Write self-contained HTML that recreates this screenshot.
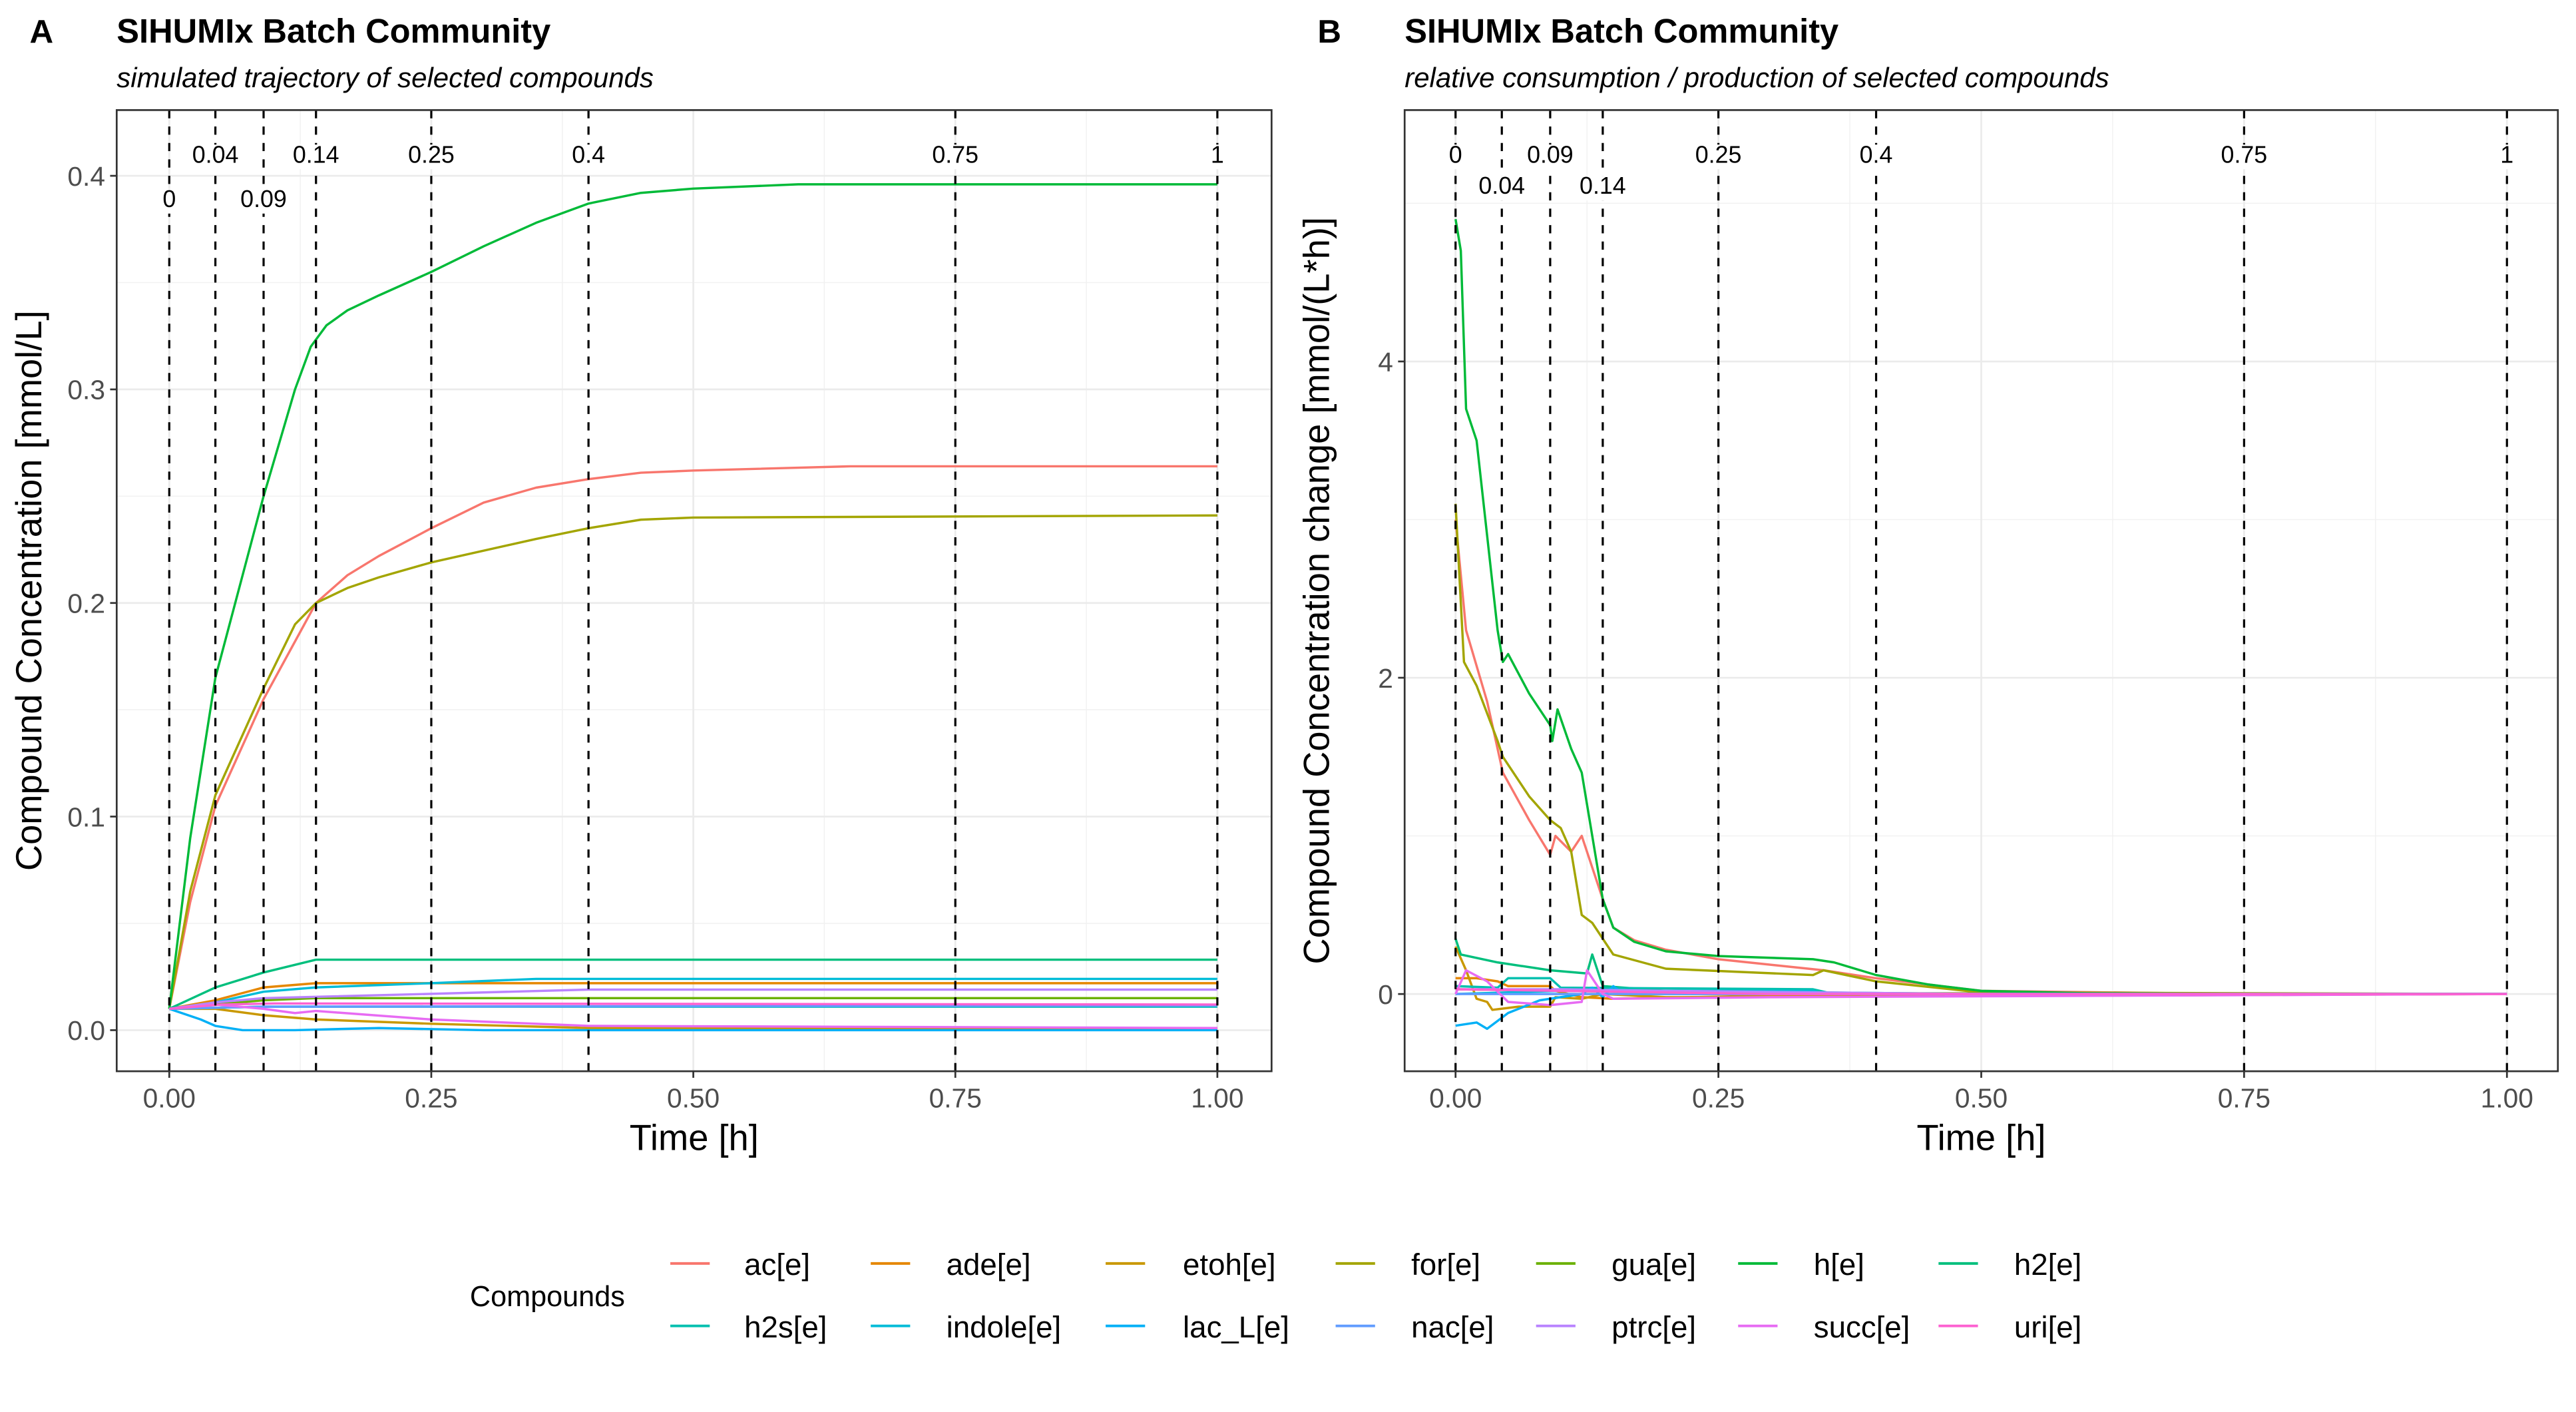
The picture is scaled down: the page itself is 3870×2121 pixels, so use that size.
<!DOCTYPE html>
<html><head><meta charset="utf-8"><style>
html,body{margin:0;padding:0;background:#fff}
svg{display:block}
text{font-family:"Liberation Sans Narrow","Liberation Sans",Arial,sans-serif}
</style></head><body>
<svg id="chart" xmlns="http://www.w3.org/2000/svg" width="3870" height="2121" viewBox="0 0 1568 859.4">
<rect width="1568" height="860" fill="#fff"/>
</svg>
<script>
const compounds=["ac[e]","ade[e]","etoh[e]","for[e]","gua[e]","h[e]","h2[e]","h2s[e]","indole[e]","lac_L[e]","nac[e]","ptrc[e]","succ[e]","uri[e]"];
const colors=["#F8766D","#E58700","#C99800","#A3A500","#6BB100","#00BA38","#00BF7D","#00C0AF","#00BCD8","#00B0F6","#619CFF","#B983FF","#E76BF3","#FD61D1"];
const markers=[0,0.044,0.09,0.14,0.25,0.4,0.75,1];
const markerLabels=["0","0.04","0.09","0.14","0.25","0.4","0.75","1"];
const rowA=[1,0,1,0,0,0,0,0];
const rowB=[0,1,0,1,0,0,0,0];
const xTicks=[0,0.25,0.5,0.75,1];
const xTickLabels=["0.00","0.25","0.50","0.75","1.00"];
const yTicksA=[0,0.1,0.2,0.3,0.4];
const yTickLabelsA=["0.0","0.1","0.2","0.3","0.4"];
const yTicksB=[0,2,4];
const yTickLabelsB=["0","2","4"];
const concA={
"ac[e]":[[0,0.01],[0.02,0.06],[0.044,0.105],[0.09,0.155],[0.14,0.2],[0.17,0.213],[0.2,0.222],[0.25,0.235],[0.3,0.247],[0.35,0.254],[0.4,0.258],[0.45,0.261],[0.5,0.262],[0.65,0.264],[1,0.264]],
"ade[e]":[[0,0.01],[0.044,0.014],[0.09,0.02],[0.14,0.022],[0.25,0.022],[1,0.022]],
"etoh[e]":[[0,0.01],[0.044,0.01],[0.09,0.007],[0.14,0.005],[0.25,0.003],[0.4,0.001],[1,0.001]],
"for[e]":[[0,0.01],[0.02,0.065],[0.044,0.11],[0.09,0.16],[0.12,0.19],[0.14,0.2],[0.17,0.207],[0.2,0.212],[0.25,0.219],[0.35,0.23],[0.4,0.235],[0.45,0.239],[0.5,0.24],[1,0.241]],
"gua[e]":[[0,0.01],[0.044,0.012],[0.09,0.014],[0.14,0.015],[1,0.015]],
"h[e]":[[0,0.01],[0.02,0.09],[0.044,0.165],[0.09,0.25],[0.12,0.3],[0.135,0.32],[0.15,0.33],[0.17,0.337],[0.2,0.344],[0.25,0.355],[0.3,0.367],[0.35,0.378],[0.4,0.387],[0.45,0.392],[0.5,0.394],[0.6,0.396],[1,0.396]],
"h2[e]":[[0,0.01],[0.044,0.02],[0.09,0.027],[0.14,0.033],[1,0.033]],
"h2s[e]":[[0,0.01],[0.09,0.011],[0.4,0.011],[1,0.011]],
"indole[e]":[[0,0.01],[0.044,0.013],[0.09,0.018],[0.14,0.02],[0.25,0.022],[0.35,0.024],[1,0.024]],
"lac_L[e]":[[0,0.01],[0.03,0.005],[0.044,0.002],[0.07,0.0],[0.12,0.0],[0.2,0.001],[0.3,0.0],[1,0.0]],
"nac[e]":[[0,0.01],[0.09,0.011],[1,0.0115]],
"ptrc[e]":[[0,0.01],[0.044,0.013],[0.09,0.015],[0.25,0.017],[0.4,0.019],[1,0.019]],
"succ[e]":[[0,0.01],[0.044,0.012],[0.09,0.01],[0.12,0.008],[0.14,0.009],[0.25,0.005],[0.4,0.002],[1,0.001]],
"uri[e]":[[0,0.01],[0.05,0.012],[0.1,0.0125],[1,0.012]]
};
const rateB={
"ac[e]":[[0,3.0],[0.01,2.3],[0.03,1.85],[0.045,1.4],[0.07,1.1],[0.09,0.88],[0.095,1.0],[0.11,0.9],[0.12,1.0],[0.13,0.8],[0.14,0.6],[0.15,0.42],[0.17,0.34],[0.2,0.28],[0.25,0.22],[0.35,0.15],[0.4,0.1],[0.5,0.02],[0.75,0],[1,0]],
"ade[e]":[[0,0.1],[0.02,0.1],[0.04,0.08],[0.05,0.05],[0.09,0.05],[0.095,0.02],[0.12,-0.02],[0.15,-0.03],[0.3,-0.01],[1,0]],
"etoh[e]":[[0,0.3],[0.01,0.15],[0.02,-0.03],[0.03,-0.05],[0.035,-0.1],[0.06,-0.08],[0.09,-0.08],[0.095,-0.02],[0.12,-0.03],[0.14,0],[0.2,-0.02],[1,0]],
"for[e]":[[0,3.1],[0.008,2.1],[0.02,1.95],[0.04,1.6],[0.045,1.5],[0.07,1.25],[0.09,1.1],[0.1,1.05],[0.11,0.9],[0.12,0.5],[0.13,0.45],[0.14,0.35],[0.15,0.25],[0.2,0.16],[0.34,0.12],[0.35,0.15],[0.4,0.08],[0.5,0.01],[1,0]],
"gua[e]":[[0,0.03],[0.1,0.02],[0.2,0.01],[0.4,0.005],[1,0]],
"h[e]":[[0,4.9],[0.005,4.7],[0.01,3.7],[0.02,3.5],[0.03,2.9],[0.04,2.3],[0.045,2.1],[0.05,2.15],[0.07,1.9],[0.09,1.7],[0.092,1.6],[0.097,1.8],[0.11,1.55],[0.12,1.4],[0.13,1.0],[0.14,0.6],[0.15,0.42],[0.17,0.33],[0.2,0.27],[0.25,0.24],[0.34,0.22],[0.36,0.2],[0.4,0.12],[0.45,0.06],[0.5,0.02],[0.6,0.005],[0.75,0],[1,0]],
"h2[e]":[[0,0.35],[0.005,0.25],[0.04,0.2],[0.09,0.15],[0.125,0.13],[0.13,0.25],[0.14,0.05],[0.2,0.02],[0.5,0],[1,0]],
"h2s[e]":[[0,0.05],[0.04,0.04],[0.05,0.1],[0.09,0.1],[0.1,0.04],[0.34,0.03],[0.36,0],[1,0]],
"indole[e]":[[0,0],[0.05,0.01],[0.1,0.02],[0.12,0.02],[0.34,0.02],[0.35,0],[1,0]],
"lac_L[e]":[[0,-0.2],[0.02,-0.18],[0.03,-0.22],[0.05,-0.12],[0.08,-0.04],[0.12,0],[0.13,0.04],[0.14,-0.02],[0.15,0.05],[0.16,0],[1,0]],
"nac[e]":[[0,0],[1,0]],
"ptrc[e]":[[0,0.03],[0.1,0.03],[0.2,0.02],[0.5,0],[1,0]],
"succ[e]":[[0,0.0],[0.01,0.15],[0.03,0.08],[0.05,-0.05],[0.09,-0.07],[0.12,-0.05],[0.125,0.15],[0.14,0.0],[0.15,-0.03],[0.3,-0.02],[1,0]],
"uri[e]":[[0,0.03],[0.1,0.02],[0.3,0.0],[1,0]]
};

const NS="http://www.w3.org/2000/svg";
const svg=document.getElementById('chart');
function mk(tag,attrs,parent,txt){const e=document.createElementNS(NS,tag);for(const k in attrs)e.setAttribute(k,attrs[k]);if(txt!==undefined)e.textContent=txt;(parent||svg).appendChild(e);return e;}

function panel(p){
  const g=mk('g',{});
  
  
  const X=v=>p.x0+(p.x1-p.x0)*v;
  const Y=v=>p.yz+(p.y4-p.yz)*(v/p.yRef);
  const xMinor=[0.125,0.375,0.625,0.875];
  xMinor.forEach(v=>mk('line',{x1:X(v),x2:X(v),y1:p.top,y2:p.bot,stroke:'#f1f1f1','stroke-width':0.6},g));
  p.yMinor.forEach(v=>mk('line',{x1:p.left,x2:p.right,y1:Y(v),y2:Y(v),stroke:'#f1f1f1','stroke-width':0.6},g));
  xTicks.forEach(v=>mk('line',{x1:X(v),x2:X(v),y1:p.top,y2:p.bot,stroke:'#ebebeb','stroke-width':1.1},g));
  p.yTicks.forEach(v=>mk('line',{x1:p.left,x2:p.right,y1:Y(v),y2:Y(v),stroke:'#ebebeb','stroke-width':1.1},g));
  compounds.forEach((c,i)=>{
    const pts=p.data[c].map(d=>X(d[0]).toFixed(2)+','+Y(d[1]).toFixed(2)).join(' ');
    const pl=mk('polyline',{points:pts,fill:'none',stroke:colors[i],'stroke-width':1.4,'stroke-linejoin':'round'},g);
    
    
  });
  markers.forEach((m,i)=>{
    const l=mk('line',{x1:X(m),x2:X(m),y1:p.top,y2:p.bot,stroke:'#000','stroke-width':1.3,'stroke-dasharray':'5,5'},g);
    
    
  });
  markers.forEach((m,i)=>{
    const row=p.rows[i];
    const y=row?p.labY2:p.labY1;
    const w=markerLabels[i].length*7.6+4;
    mk('rect',{x:X(m)-w/2,y:y-11,width:w,height:15,fill:'#fff'},g);
    const t=mk('text',{x:X(m),y:y,'font-size':14.5,'text-anchor':'middle',fill:'#000'},g,markerLabels[i]);
    
    
  });
  mk('rect',{x:p.left,y:p.top,width:p.right-p.left,height:p.bot-p.top,fill:'none',stroke:'#333','stroke-width':1.1},g);
  xTicks.forEach((v,i)=>{
    mk('line',{x1:X(v),x2:X(v),y1:p.bot,y2:p.bot+4,stroke:'#333','stroke-width':1.1},g);
    const t=mk('text',{x:X(v),y:p.bot+22,'font-size':16.5,'text-anchor':'middle',fill:'#4d4d4d'},g,xTickLabels[i]);
    
    
  });
  p.yTicks.forEach((v,i)=>{
    mk('line',{x1:p.left-4,x2:p.left,y1:Y(v),y2:Y(v),stroke:'#333','stroke-width':1.1},g);
    const t=mk('text',{x:p.left-7,y:Y(v)+6,'font-size':16.5,'text-anchor':'end',fill:'#4d4d4d'},g,p.yLabels[i]);
    
    
  });
  const xt=mk('text',{x:(p.left+p.right)/2,y:700,'font-size':22,'text-anchor':'middle',fill:'#000'},g,'Time [h]');
  
  
  const cy=(p.top+p.bot)/2;
  const yt=mk('text',{x:p.left-46,y:cy,'font-size':22,'text-anchor':'middle',fill:'#000',transform:`rotate(-90 ${p.left-46} ${cy})`},g,p.yTitle);
  
  
  const tag=mk('text',{x:p.left-53,y:26,'font-size':20,'font-weight':'bold',fill:'#000'},g,p.tag);
  
  
  const ti=mk('text',{x:p.left,y:26,'font-size':20.5,'font-weight':'bold',fill:'#000'},g,'SIHUMIx Batch Community');
  
  
  const st=mk('text',{x:p.left,y:53,'font-size':17,'font-style':'italic',fill:'#000'},g,p.sub);
  
  
}
panel({name:'panel-a',tag:'A',left:71,right:774,top:67,bot:652,x0:103,x1:741,yz:627,y4:107,yRef:0.4,
  yTicks:yTicksA,yLabels:yTickLabelsA,yMinor:[0.05,0.15,0.25,0.35],data:concA,rows:rowA,labY1:99,labY2:126,
  yTitle:'Compound Concentration [mmol/L]',sub:'simulated trajectory of selected compounds'});
panel({name:'panel-b',tag:'B',left:855,right:1557,top:67,bot:652,x0:886,x1:1526,yz:605,y4:220,yRef:4,
  yTicks:yTicksB,yLabels:yTickLabelsB,yMinor:[1,3,5],data:rateB,rows:rowB,labY1:99,labY2:118,
  yTitle:'Compound Concentration change [mmol/(L*h)]',sub:'relative consumption / production of selected compounds'});

const lg=mk('g',{});


const lt=mk('text',{x:286,y:795,'font-size':17.5,fill:'#000'},lg,'Compounds');


const keyX=[408,530,673,813,935,1058,1180];
const labX=[453,576,720,859,981,1104,1226];
compounds.forEach((c,i)=>{
  const col=i%7,row=Math.floor(i/7);
  const y=row?807:769;
  const e=mk('g',{},lg);
  
  
  mk('line',{x1:keyX[col],x2:keyX[col]+24,y1:y,y2:y,stroke:colors[i],'stroke-width':1.6},e);
  mk('text',{x:labX[col],y:y+7,'font-size':18.5,fill:'#000'},e,c);
});
</script>
</body></html>
